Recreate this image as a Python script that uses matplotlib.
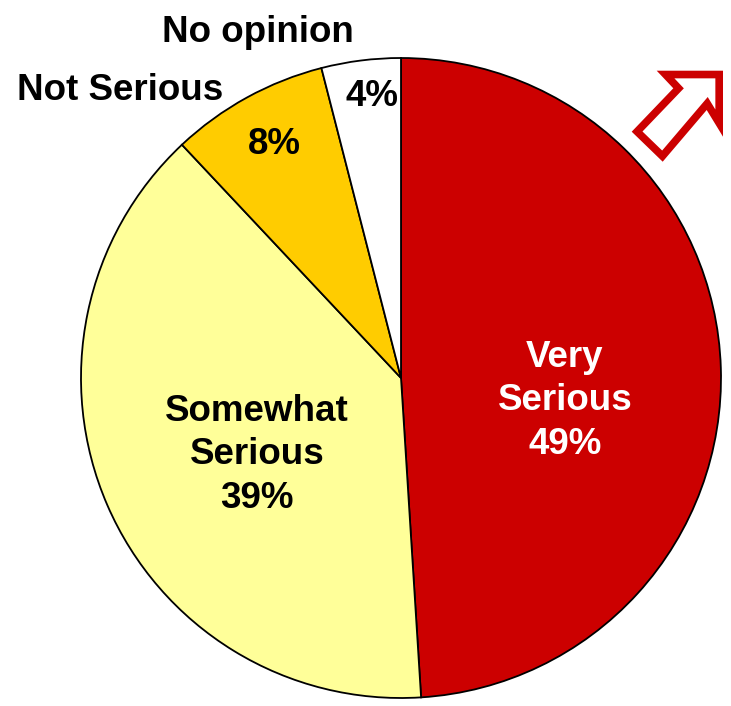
import matplotlib
matplotlib.use("Agg")
import matplotlib.pyplot as plt
from matplotlib.patches import Polygon

categories = ["Very Serious", "Somewhat Serious", "Not Serious", "No opinion"]
values = [49, 39, 8, 4]
colors = ["#CC0000", "#FFFF99", "#FFCC00", "#FFFFFF"]

W, H = 731, 706
fig = plt.figure(figsize=(W / 100, H / 100), dpi=100)
ax = fig.add_axes([0, 0, 1, 1])

cx, cy, r = 401, H - 378, 320
ax.pie(values, colors=colors, startangle=90, counterclock=False,
       center=(cx, cy), radius=r,
       wedgeprops=dict(edgecolor="black", linewidth=1.3))
ax.set_xlim(0, W)
ax.set_ylim(0, H)
ax.set_aspect("equal")
ax.axis("off")

font = dict(family=["Liberation Sans", "DejaVu Sans"], fontweight="bold", fontsize=26.5)

def px(x, y):
    return x, H - y

ax.text(*px(565, 401), f"Very\nSerious\n{values[0]}%", color="white",
        ha="center", va="center", linespacing=1.32, **font)
ax.text(*px(257, 455), f"Somewhat\nSerious\n{values[1]}%", color="black",
        ha="center", va="center", linespacing=1.32, **font)
ax.text(*px(274, 145), f"{values[2]}%", color="black", ha="center", va="center", **font)
ax.text(*px(372, 96), f"{values[3]}%", color="black", ha="center", va="center", **font)
ax.text(*px(120, 90), categories[2], color="black", ha="center", va="center", **font)
ax.text(*px(258, 33), categories[3], color="black", ha="center", va="center", **font)

# Hollow arrow pointing up and to the right
arrow_px = [(656.7, 70.7), (723, 70.7), (723, 136.7), (706.7, 110),
            (662.7, 161.7), (631.7, 131.7), (673.3, 88.3)]
arrow = Polygon([px(x, y) for x, y in arrow_px], closed=True,
                facecolor="white", edgecolor="#CC0000", linewidth=11,
                joinstyle="miter")
ax.add_patch(arrow)
arrow.set_clip_path(arrow)

fig.savefig("out.png", dpi=100)
